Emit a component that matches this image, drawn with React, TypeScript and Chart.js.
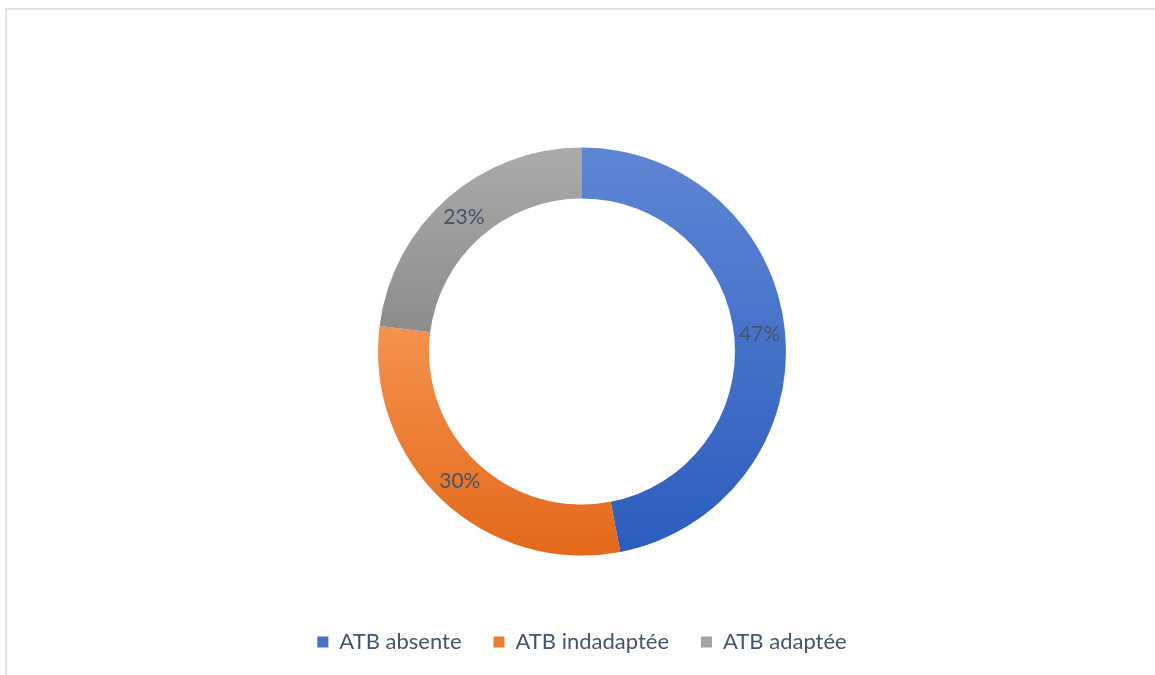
import React, { useEffect, useRef } from "react";
import { Chart, registerables } from "chart.js";

Chart.register(...registerables);

const categories = ["ATB absente", "ATB indadaptée", "ATB adaptée"];
const values = [47, 30, 23];
const percentLabels = ["47%", "30%", "23%"];
const topColors = ["#5f86d4", "#f5924f", "#ababab"];
const bottomColors = ["#2c5cbd", "#e3691a", "#8c8c8c"];
const solidColors = ["#4472c4", "#ed7d31", "#a5a5a5"];

const TEXT_COLOR = "#44546a";
const FONT = "Lato, 'Open Sans', sans-serif";
const RADIUS = 204;

function sliceExtent(cy: number, rOut: number, rIn: number, a0: number, a1: number) {
  const ys: number[] = [];
  [a0, a1].forEach((a) => {
    ys.push(cy + rOut * Math.sin(a));
    ys.push(cy + rIn * Math.sin(a));
  });
  const norm = (a: number) => ((a % (2 * Math.PI)) + 2 * Math.PI) % (2 * Math.PI);
  const inRange = (t: number) => {
    const s = norm(a0);
    const span = a1 - a0;
    const d = norm(t - s);
    return d <= span;
  };
  if (inRange(-Math.PI / 2)) ys.push(cy - rOut);
  if (inRange(Math.PI / 2)) ys.push(cy + rOut);
  return [Math.min(...ys), Math.max(...ys)];
}

const labelPlugin = {
  id: "sliceLabels",
  afterDatasetsDraw(chart: any) {
    const ctx = chart.ctx;
    const meta = chart.getDatasetMeta(0);
    ctx.save();
    ctx.font = `21px ${FONT}`;
    ctx.fillStyle = TEXT_COLOR;
    ctx.textAlign = "center";
    ctx.textBaseline = "middle";
    meta.data.forEach((el: any, i: number) => {
      const p = el.tooltipPosition();
      ctx.fillText(percentLabels[i], p.x, p.y);
    });
    ctx.restore();
  },
};

export default function App() {
  const ref = useRef<HTMLCanvasElement | null>(null);

  useEffect(() => {
    if (!ref.current) return;
    const total = values.reduce((a, b) => a + b, 0);
    const chart = new Chart(ref.current, {
      type: "doughnut",
      data: {
        labels: categories,
        datasets: [
          {
            data: values,
            borderWidth: 0,
            backgroundColor: (c: any) => {
              const ch = c.chart;
              const area = ch.chartArea;
              const i = c.dataIndex;
              if (!area || i === undefined) return solidColors[i ?? 0];
              const cx = (area.left + area.right) / 2;
              const cy = (area.top + area.bottom) / 2;
              let cum = 0;
              for (let k = 0; k < i; k++) cum += values[k];
              const a0 = -Math.PI / 2 + (2 * Math.PI * cum) / total;
              const a1 = a0 + (2 * Math.PI * values[i]) / total;
              const [y0, y1] = sliceExtent(cy, RADIUS, RADIUS * 0.75, a0, a1);
              const g = ch.ctx.createLinearGradient(cx, y0, cx, y1);
              g.addColorStop(0, topColors[i]);
              g.addColorStop(1, bottomColors[i]);
              return g;
            },
          },
        ],
      },
      options: {
        responsive: false,
        animation: false,
        events: [],
        radius: RADIUS,
        cutout: "75%",
        layout: { padding: { left: 9, right: 0, top: 104, bottom: 8 } },
        plugins: {
          tooltip: { enabled: false },
          legend: {
            position: "bottom",
            labels: {
              boxWidth: 11,
              boxHeight: 11,
              padding: 32,
              color: TEXT_COLOR,
              font: { family: FONT, size: 22 },
              generateLabels: () =>
                categories.map((t, i) => ({
                  text: t,
                  fillStyle: solidColors[i],
                  strokeStyle: solidColors[i],
                  lineWidth: 0,
                  fontColor: TEXT_COLOR,
                  hidden: false,
                  index: i,
                })),
            },
          },
        },
      } as any,
      plugins: [labelPlugin],
    });
    return () => chart.destroy();
  }, []);

  return (
    <div
      style={{
        position: "fixed",
        left: 0,
        top: 0,
        width: 1155,
        height: 675,
        overflow: "hidden",
        background: "#ffffff",
      }}
    >
      <div
        style={{
          position: "absolute",
          left: 5,
          top: 8,
          width: 1200,
          height: 720,
          border: "2px solid #e1e4ea",
          boxSizing: "border-box",
        }}
      />
      <canvas
        ref={ref}
        width={1155}
        height={671}
        style={{ position: "absolute", left: 0, top: 0, width: 1155, height: 671 }}
      />
    </div>
  );
}
